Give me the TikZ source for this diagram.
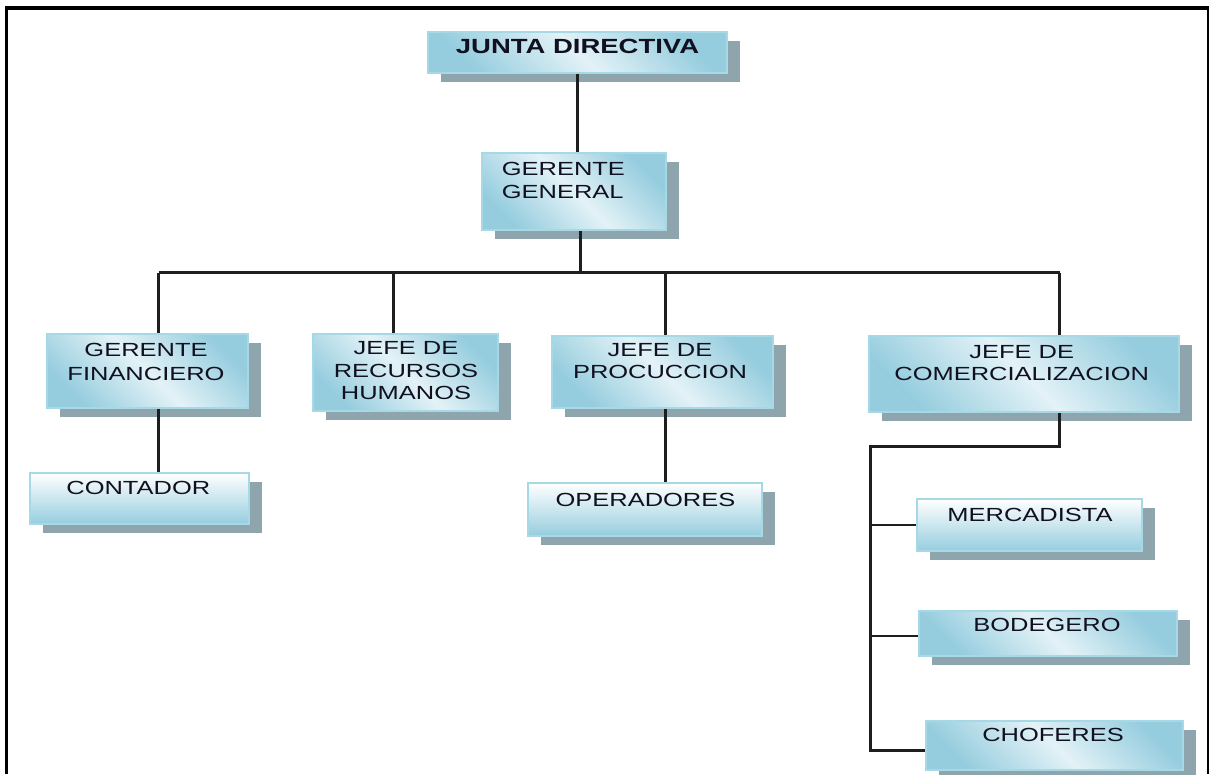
\documentclass[tikz,border=0pt]{standalone}
\usepackage{fontspec}
\setmainfont[FakeStretch=1.34]{Liberation Sans}
\usetikzlibrary{shadows}
\definecolor{boxblue}{HTML}{96CDDE}
\definecolor{boxlight}{HTML}{E3F2F7}
\definecolor{boxedge}{HTML}{A6D8E6}
\definecolor{shadowc}{HTML}{8FA5AE}
\definecolor{linec}{HTML}{1E1E1E}
\definecolor{txtc}{HTML}{101020}
\tikzset{
  orgbox/.style={rectangle, inner sep=0pt, draw=boxedge, line width=1.3pt,
    drop shadow={shadow xshift=13pt, shadow yshift=-9pt, fill=shadowc, opacity=1}},
  diagbox/.style={orgbox, top color=boxblue, bottom color=boxblue, middle color=boxlight, shading angle=-45},
  vertbox/.style={orgbox, top color=white, bottom color=boxblue},
  lbl/.style={inner sep=0pt, text=txtc, align=center, anchor=north},
  conn/.style={draw=linec, line width=2.5pt},
  frameline/.style={draw=black},
}
\begin{document}
\begin{tikzpicture}[x=1pt, y=-1pt]
\fill[white] (0,0) rectangle (1209,774);
\useasboundingbox (0,0) rectangle (1209,774);
% frame
\draw[frameline, line width=4pt] (5,8) -- (1209,8);
\draw[frameline, line width=3pt] (6.3,6) -- (6.3,774);
\draw[frameline, line width=2pt] (1208,8) -- (1208,774);

% boxes
\node[diagbox, minimum width=299pt, minimum height=41pt] (jd) at (577.5,52.5) {};
\node[diagbox, minimum width=184pt, minimum height=77pt] (gg) at (574,191.5) {};
\node[diagbox, minimum width=201pt, minimum height=74pt] (gf) at (147.5,371) {};
\node[diagbox, minimum width=185pt, minimum height=77pt] (jrh) at (405.5,372.5) {};
\node[diagbox, minimum width=221pt, minimum height=72pt] (jp) at (662.5,372) {};
\node[diagbox, minimum width=310pt, minimum height=76pt] (jc) at (1024,374) {};
\node[vertbox, minimum width=219pt, minimum height=51pt] (cont) at (139.5,498.5) {};
\node[vertbox, minimum width=234pt, minimum height=53pt] (op) at (645,509.5) {};
\node[vertbox, minimum width=225pt, minimum height=52pt] (merc) at (1029.5,525) {};
\node[diagbox, minimum width=258pt, minimum height=45pt] (bod) at (1048,633.5) {};
\node[diagbox, minimum width=257pt, minimum height=49pt] (chof) at (1054.5,745.5) {};

% texts
\node[lbl, font=\bfseries\fontsize{20.5}{24}\selectfont] (jd-t) at (577.5,39.3) {JUNTA DIRECTIVA};
\node[lbl, anchor=north west, align=left, font=\fontsize{19}{23.3}\selectfont] (gg-t) at (501.7,161.7) {GERENTE\\GENERAL};
\node[lbl, font=\fontsize{19}{23.4}\selectfont] (gf-t) at (146,343.3) {GERENTE\\FINANCIERO};
\node[lbl, font=\fontsize{19}{22.2}\selectfont] (jrh-t) at (406,341.7) {JEFE DE\\RECURSOS\\HUMANOS};
\node[lbl, font=\fontsize{19}{22}\selectfont] (jp-t) at (660,343.3) {JEFE DE\\PROCUCCION};
\node[lbl, font=\fontsize{19}{22.3}\selectfont] (jc-t) at (1021.7,345) {JEFE DE\\COMERCIALIZACION};
\node[lbl, font=\fontsize{19}{23}\selectfont] (cont-t) at (138.3,481) {CONTADOR};
\node[lbl, font=\fontsize{19}{23}\selectfont] (op-t) at (645.5,493.3) {OPERADORES};
\node[lbl, font=\fontsize{19}{23}\selectfont] (merc-t) at (1030,508.3) {MERCADISTA};
\node[lbl, font=\fontsize{19}{23}\selectfont] (bod-t) at (1047,617.7) {BODEGERO};
\node[lbl, font=\fontsize{19}{23}\selectfont] (chof-t) at (1053,728.3) {CHOFERES};

% connectors
\coordinate (busL) at (158.5,272.5);
\coordinate (busR) at (1059.5,272.5);
\coordinate (trunk) at (870.5,446.5);
\coordinate (bodw) at ([yshift=-2.5pt]bod.west);
\coordinate (chofw) at ([yshift=-5pt]chof.west);
\draw[conn] (jd.south) -- (jd.south |- gg.north);
\draw[conn] ([xshift=6.5pt]gg.south) -- ([xshift=6.5pt]gg.south |- busL);
\draw[conn] (busL) -- (busR);
\draw[conn] (busL) -- (busL |- gf.north);
\draw[conn] ([xshift=-12pt]jrh.north |- busL) -- ([xshift=-12pt]jrh.north);
\draw[conn] ([xshift=3pt]jp.north |- busL) -- ([xshift=3pt]jp.north);
\draw[conn] (busR) -- (busR |- jc.north);
\draw[conn] (busL |- gf.south) -- (busL |- cont.north);
\draw[conn] ([xshift=3pt]jp.south) -- ([xshift=3pt]jp.south |- op.north);
\draw[conn] (busR |- jc.south) -- (busR |- trunk) -- (trunk) -- (trunk |- chofw) -- (chofw);
\draw[conn] (trunk |- merc.west) -- (merc.west);
\draw[conn] (trunk |- bodw) -- (bodw);
\end{tikzpicture}
\end{document}
